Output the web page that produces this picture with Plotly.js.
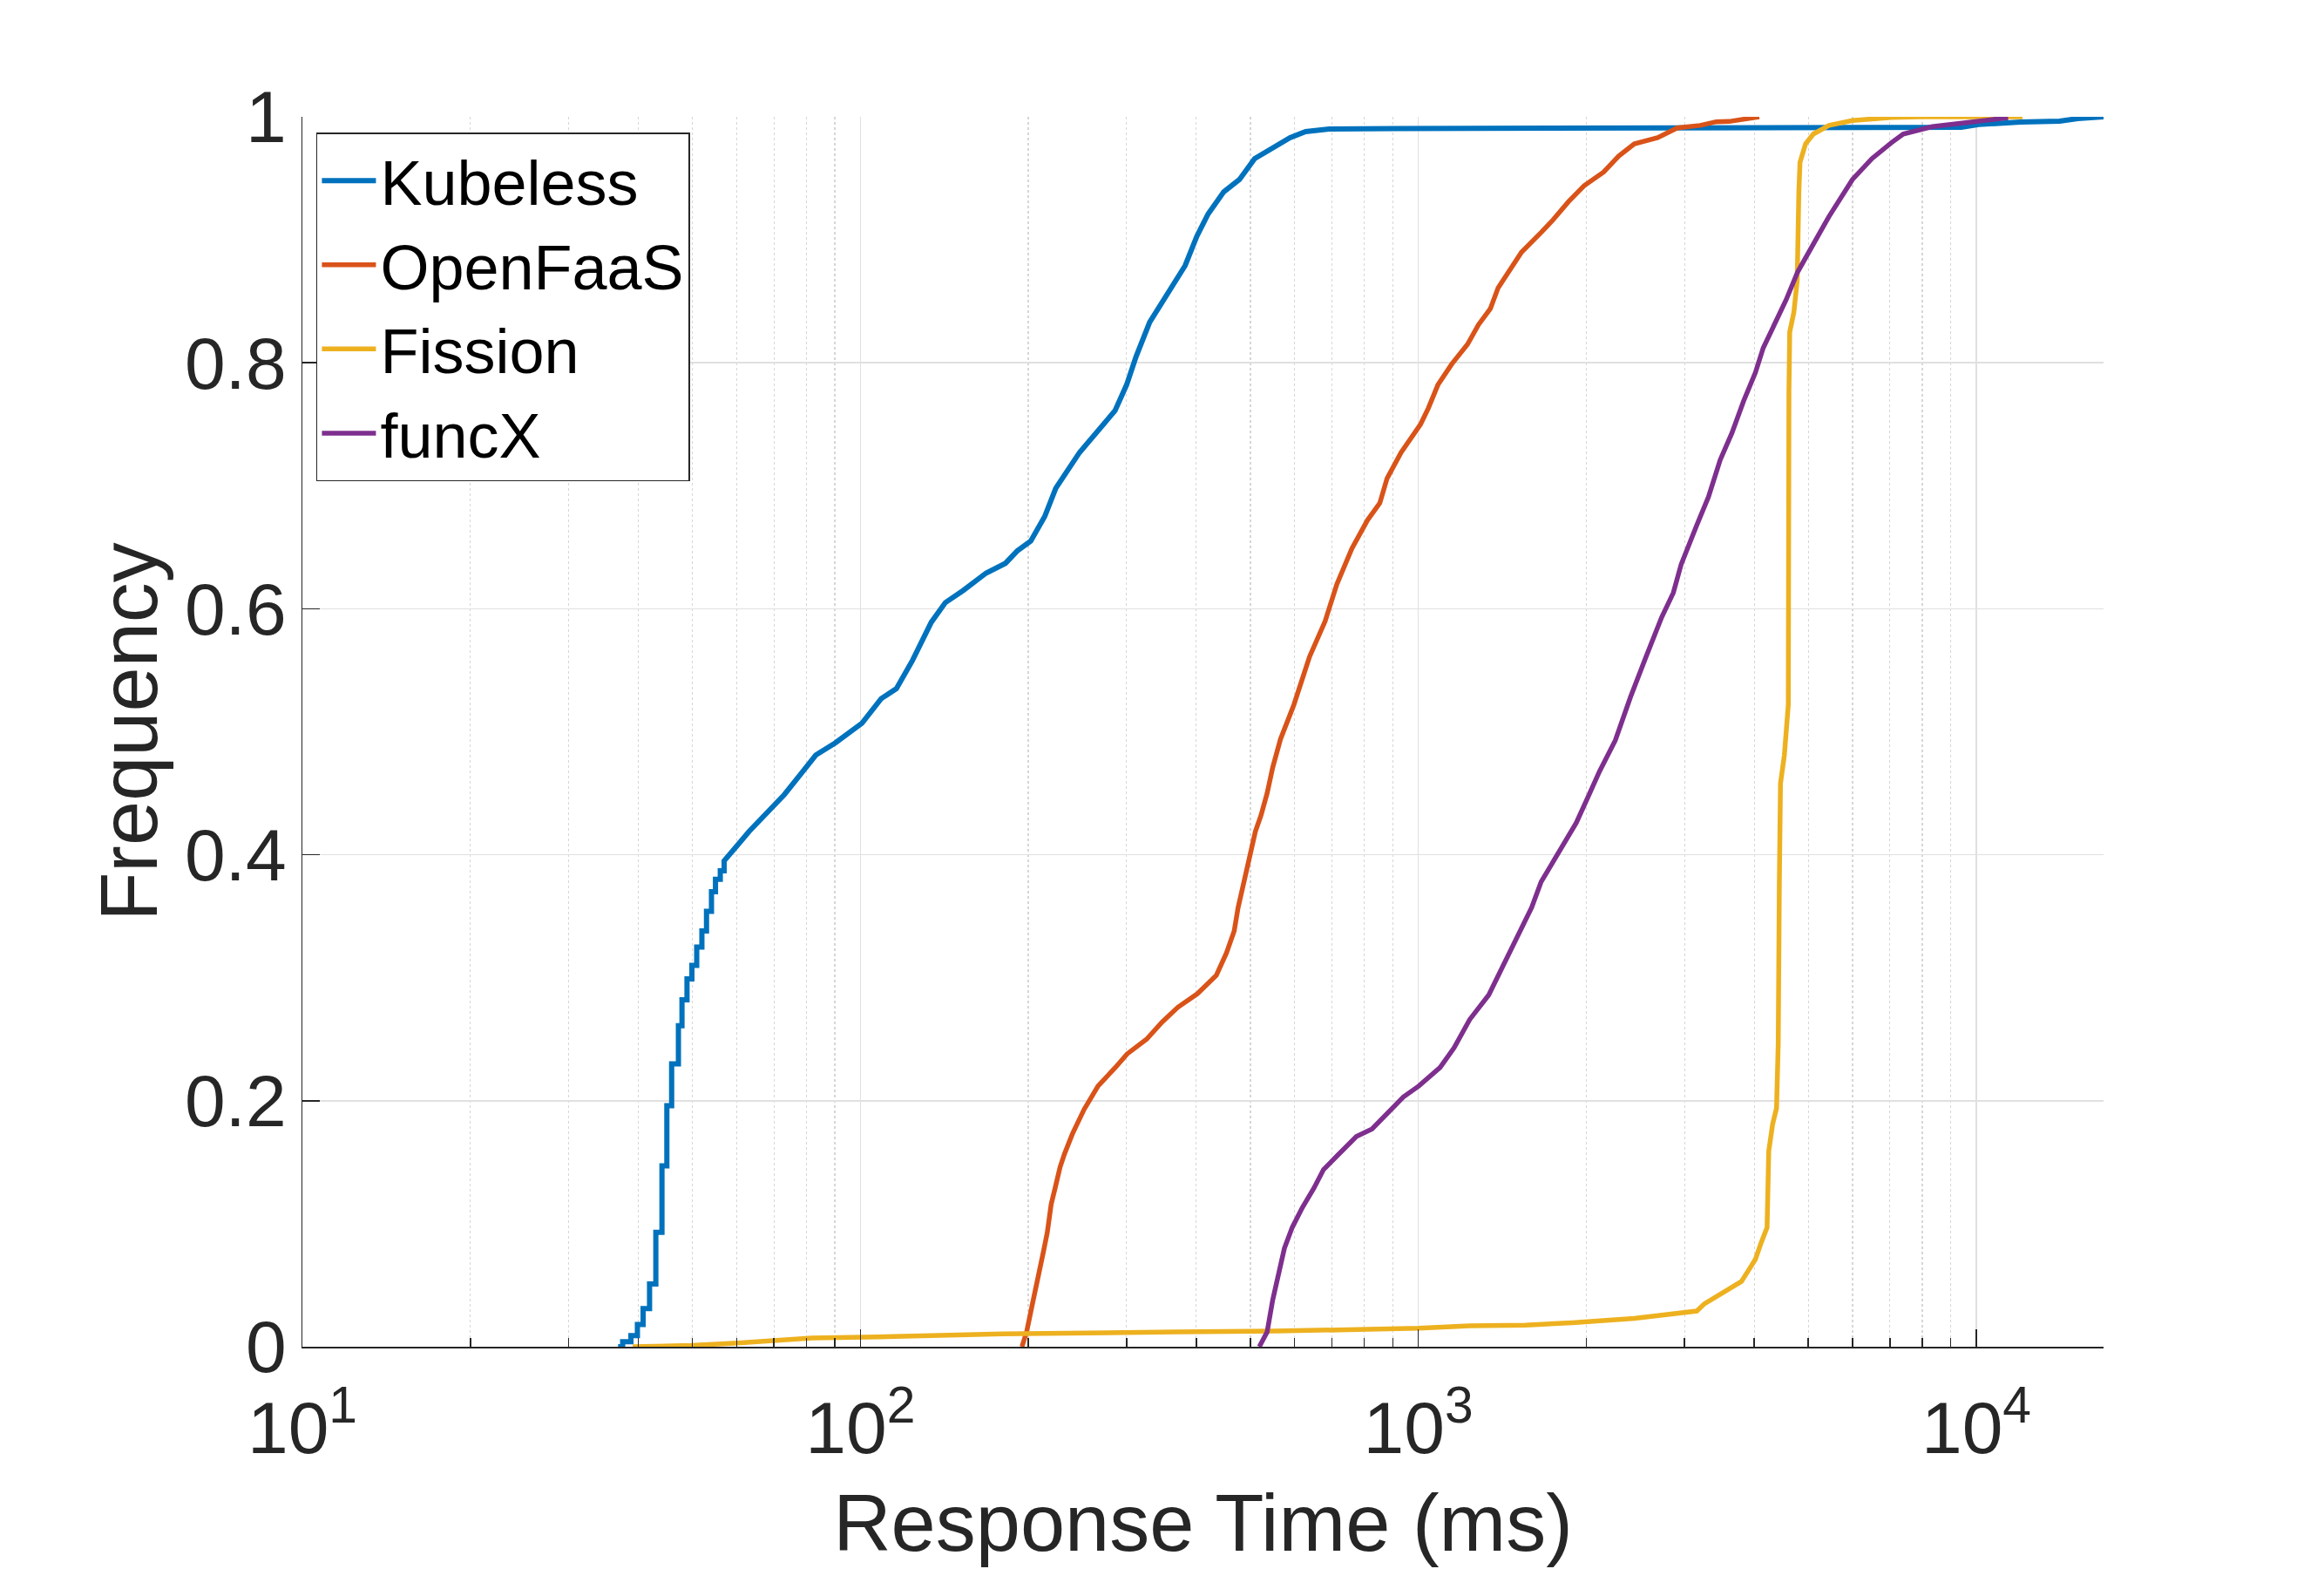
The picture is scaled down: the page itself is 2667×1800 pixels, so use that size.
<!DOCTYPE html>
<html>
<head>
<meta charset="utf-8">
<script src="https://cdn.plot.ly/plotly-3.0.1.min.js"></script>
<style>
  html, body { margin: 0; padding: 0; background: white; }
</style>
</head>
<body>
<div id="cdfChart"></div>
<script>

// Series names and colours
const seriesNames = ["Kubeless", "OpenFaaS", "Fission", "funcX"];
const seriesColors = ["#0072BD", "#D95319", "#EDB120", "#7E2F8E"];

// Kubeless: start point and the staircase at the low end (ms, frequency)
const kubelessStart = [36.8, 0];
const kubelessStepX = [37.5, 38.8, 39.85, 40.8, 41.9, 43.0, 44.1, 45.0, 45.9, 47.2,
  47.9, 48.9, 49.9, 50.9, 52.0, 53.0, 54.1, 55.0, 56.1, 57.0];
const kubelessStepY = [0.004, 0.009, 0.018, 0.031, 0.051, 0.093, 0.147, 0.196, 0.230, 0.261,
  0.282, 0.299, 0.310, 0.325, 0.338, 0.354, 0.370, 0.380, 0.387, 0.395];

// Kubeless: rest of the curve
const kubelessX = [58.4, 60.3, 63.2, 66.4, 69.7, 73.1, 78.0, 83.2, 90.2, 96.1,
  100.7, 109, 116, 124, 134, 142, 153, 168, 182, 191,
  202, 214, 224, 247, 264, 286, 300, 312, 330, 352,
  382, 401, 420, 448, 478, 509, 552, 589, 628, 692,
  906, 3200, 9400, 10100, 12000, 14100, 15200, 17000];
const kubelessY = [0.400, 0.408, 0.419, 0.429, 0.440, 0.449, 0.465, 0.481, 0.491, 0.500,
  0.507, 0.527, 0.535, 0.558, 0.589, 0.605, 0.615, 0.629, 0.637, 0.647,
  0.655, 0.675, 0.698, 0.727, 0.743, 0.761, 0.782, 0.805, 0.833, 0.854,
  0.879, 0.903, 0.921, 0.939, 0.949, 0.966, 0.975, 0.983, 0.988, 0.990,
  0.9905, 0.9905, 0.9915, 0.9938, 0.9957, 0.9964, 0.9986, 1.0];

// OpenFaaS
const openfaasX = [194.8, 198.6, 202.8, 208.0, 212.8, 216.3, 219.8, 223.4, 228.0, 232.3,
  239.9, 251.8, 266.7, 286.4, 300.6, 325.8, 347.5, 370.7, 401.8, 434.5,
  452.9, 467.7, 475.3, 486.4, 498.9, 510.5, 522.4, 535.8, 548.3, 566.2,
  598.4, 638.3, 680.8, 714.5, 760.3, 810.6, 853.1, 879.0, 931.1, 1009,
  1042, 1084, 1148, 1225, 1282, 1346, 1390, 1459, 1531, 1660,
  1742, 1858, 1982, 2148, 2286, 2438, 2685, 2911, 3199, 3420,
  3606, 4083];
const openfaasY = [0, 0.012, 0.032, 0.054, 0.077, 0.093, 0.116, 0.129, 0.146, 0.157,
  0.173, 0.193, 0.212, 0.227, 0.238, 0.250, 0.264, 0.276, 0.287, 0.302,
  0.320, 0.338, 0.357, 0.377, 0.400, 0.419, 0.432, 0.450, 0.471, 0.494,
  0.522, 0.561, 0.590, 0.620, 0.649, 0.672, 0.686, 0.706, 0.727, 0.750,
  0.763, 0.782, 0.799, 0.815, 0.831, 0.844, 0.861, 0.875, 0.890, 0.906,
  0.916, 0.931, 0.944, 0.955, 0.968, 0.978, 0.983, 0.991, 0.993, 0.996,
  0.9962, 1.0];

// Fission
const fissionX = [39.1, 49.8, 60.3, 81.8, 107.4, 126.2, 148.3, 179.9, 369, 553,
  1002, 1236, 1556, 1888, 2438, 2958, 3155, 3258, 3420, 3648,
  3793, 3917, 4018, 4111, 4217, 4246, 4315, 4385, 4416, 4436,
  4457, 4529, 4581, 4603, 4615, 4630, 4710, 4775, 4808, 4831,
  4943, 5105, 5445, 5998, 7047, 7943, 12100];
const fissionY = [0, 0.001, 0.003, 0.007, 0.008, 0.009, 0.010, 0.0104, 0.012, 0.0127,
  0.015, 0.017, 0.0176, 0.0195, 0.023, 0.027, 0.029, 0.035, 0.041, 0.048,
  0.053, 0.063, 0.071, 0.084, 0.097, 0.159, 0.181, 0.194, 0.247, 0.377,
  0.458, 0.481, 0.507, 0.522, 0.776, 0.825, 0.841, 0.867, 0.939, 0.963,
  0.978, 0.986, 0.993, 0.997, 0.9995, 1.0, 1.0];

// funcX
const funcxX = [518.8, 535.8, 548.3, 562.3, 575.4, 594.3, 619.4, 650.1, 676.1, 714.5,
  774.5, 826.0, 881.0, 939.7, 1002, 1094, 1159, 1236, 1337, 1426,
  1521, 1596, 1660, 1758, 1828, 1919, 2014, 2113, 2254, 2399,
  2559, 2729, 2864, 2958, 3155, 3311, 3475, 3648, 3828, 4018,
  4150, 4345, 4560, 4786, 5105, 5445, 5998, 6501, 7047, 7396,
  8337, 9977, 11402];
const funcxY = [0, 0.012, 0.038, 0.061, 0.080, 0.097, 0.113, 0.129, 0.144, 0.155,
  0.171, 0.177, 0.190, 0.203, 0.212, 0.227, 0.243, 0.266, 0.286, 0.312,
  0.338, 0.357, 0.378, 0.397, 0.409, 0.426, 0.447, 0.468, 0.493, 0.528,
  0.561, 0.593, 0.613, 0.636, 0.668, 0.691, 0.721, 0.743, 0.769, 0.792,
  0.812, 0.831, 0.851, 0.874, 0.896, 0.919, 0.949, 0.966, 0.979, 0.986,
  0.992, 0.9957, 0.9993];

// Axis ticks
const xTickVals = [10, 100, 1000, 10000];
const xTickText = ["10<sup>1</sup>", "10<sup>2</sup>", "10<sup>3</sup>", "10<sup>4</sup>"];
const yTickVals = [0, 0.2, 0.4, 0.6, 0.8, 1];
const yTickText = ["0", "0.2", "0.4", "0.6", "0.8", "1"];

// Build the Kubeless curve: staircase corners first, then the smooth part
function buildKubeless() {
  let xs = [kubelessStart[0]];
  let ys = [kubelessStart[1]];
  let prevY = kubelessStart[1];
  for (let i = 0; i < kubelessStepX.length; i++) {
    xs.push(kubelessStepX[i], kubelessStepX[i]);
    ys.push(prevY, kubelessStepY[i]);
    prevY = kubelessStepY[i];
  }
  return { x: xs.concat(kubelessX), y: ys.concat(kubelessY) };
}

// Create a function to build one line trace
function makeTrace(x, y, i, width) {
  return {
    x: x,
    y: y,
    name: seriesNames[i],
    type: "scatter",
    mode: "lines",
    line: { color: seriesColors[i], width: width }
  };
}

function buildChart() {
  const kube = buildKubeless();
  const data = [
    makeTrace(kube.x, kube.y, 0, 6),
    makeTrace(openfaasX, openfaasY, 1, 5.5),
    makeTrace(fissionX, fissionY, 2, 5.5),
    makeTrace(funcxX, funcxY, 3, 5.5)
  ];

  const axisColor = "#262626";

  const layout = {
    width: 2667,
    height: 1800,
    margin: { l: 347, r: 253, t: 134, b: 255 },
    paper_bgcolor: "white",
    plot_bgcolor: "white",
    font: { family: "Liberation Sans, Arial, Helvetica, sans-serif", color: axisColor },
    showlegend: true,
    xaxis: {
      type: "log",
      range: [1, 4.228],
      tickmode: "array",
      tickvals: xTickVals,
      ticktext: xTickText,
      ticks: "inside",
      ticklen: 20,
      tickwidth: 1.5,
      tickcolor: axisColor,
      tickfont: { size: 84, color: axisColor },
      ticklabelstandoff: 20,
      showline: true,
      linecolor: axisColor,
      linewidth: 1.5,
      showgrid: true,
      gridcolor: "#e0e0e0",
      gridwidth: 1.5,
      zeroline: false,
      minor: {
        dtick: "D1",
        ticks: "inside",
        ticklen: 10,
        tickwidth: 1.5,
        tickcolor: axisColor,
        showgrid: true,
        gridcolor: "#d6d6d6",
        griddash: "dot",
        gridwidth: 1.2
      },
      title: { text: "Response Time (ms)", font: { size: 92, color: axisColor }, standoff: 30 },
      automargin: false
    },
    yaxis: {
      range: [0, 1],
      tickmode: "array",
      tickvals: yTickVals,
      ticktext: yTickText,
      ticks: "inside",
      ticklen: 20,
      tickwidth: 1.5,
      tickcolor: axisColor,
      tickfont: { size: 84, color: axisColor },
      showline: true,
      linecolor: axisColor,
      linewidth: 1.5,
      showgrid: true,
      gridcolor: "#e0e0e0",
      gridwidth: 1.5,
      zeroline: false,
      title: { text: "Frequency", font: { size: 92, color: axisColor }, standoff: 0 },
      automargin: false
    },
    legend: {
      x: 0.0077,
      y: 0.987,
      xanchor: "left",
      yanchor: "top",
      bgcolor: "white",
      bordercolor: axisColor,
      borderwidth: 1.5,
      font: { size: 72, color: "black" },
      itemwidth: 62,
      tracegroupgap: 0
    }
  };

  Plotly.newPlot("cdfChart", data, layout, { staticPlot: true });
}

buildChart();
</script>
</body>
</html>
